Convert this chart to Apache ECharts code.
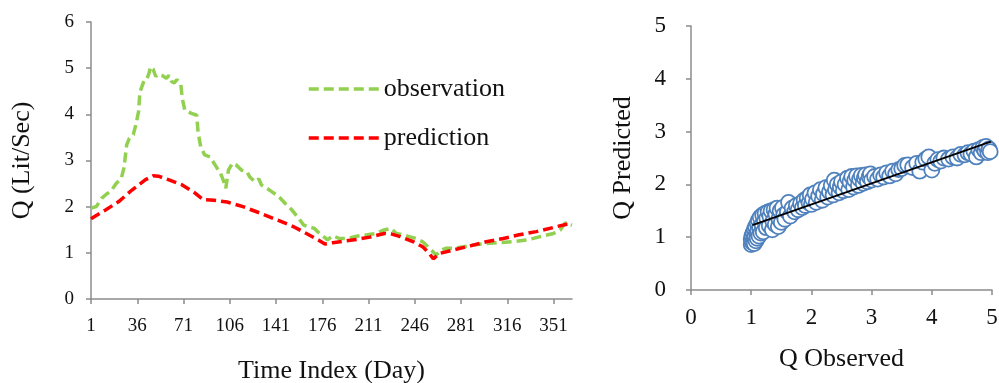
<!DOCTYPE html>
<html>
<head>
<meta charset="utf-8">
<script src="https://cdn.jsdelivr.net/npm/echarts@6/dist/echarts.min.js"></script>
<style>html,body{margin:0;padding:0;background:#fff}#c{width:999px;height:383px}</style>
</head>
<body>
<div id="c"></div>
<script>
// ---- data ----
var obsDays = [1,5,9,13,16,20,24,26,28,30,33,35,37,38,41,43,45,46,48,50,52,55,58,60,62,64,66,69,70,72,77,81,82,84,87,91,95,99,101,103,105,108,111,115,119,121,125,128,130,134,138,143,148,152,155,158,162,165,170,174,178,180,184,189,195,202,210,217,222,228,232,237,242,247,252,256,260,262,266,270,275,283,290,300,310,320,331,341,351,356,360,362,365];
var obsVals = [1.97,2.0,2.18,2.28,2.33,2.5,2.62,2.85,3.34,3.48,3.56,3.78,4.06,4.48,4.72,4.74,4.9,5.03,4.98,4.82,4.87,4.84,4.78,4.84,4.71,4.68,4.75,4.65,4.35,4.09,4.02,3.98,3.62,3.3,3.12,3.08,2.9,2.72,2.58,2.4,2.79,2.94,2.9,2.79,2.76,2.65,2.54,2.6,2.47,2.4,2.32,2.22,2.07,1.96,1.86,1.75,1.6,1.57,1.53,1.42,1.33,1.28,1.37,1.31,1.31,1.36,1.39,1.42,1.49,1.53,1.42,1.39,1.35,1.31,1.24,1.13,1.02,0.95,1.06,1.1,1.1,1.13,1.17,1.2,1.22,1.24,1.28,1.35,1.42,1.49,1.65,1.62,1.6];
var predDays = [1,12,22,32,42,48,52,60,70,80,86,94,104,116,129,142,154,164,173,178,184,192,202,212,223,228,235,245,252,257,260,265,275,288,300,313,325,338,351,361,365];
var predVals = [1.74,1.93,2.11,2.36,2.58,2.67,2.66,2.58,2.47,2.29,2.15,2.14,2.1,2.0,1.86,1.71,1.57,1.42,1.28,1.19,1.22,1.25,1.29,1.34,1.42,1.41,1.35,1.24,1.13,0.99,0.87,0.99,1.06,1.15,1.24,1.31,1.39,1.46,1.55,1.62,1.63];
var dayTicks = [1,36,71,106,141,176,211,246,281,316,351];

// scatter: [Q observed, Q predicted]
var scatterPoints = [
  [1.0,0.86],[1.0,0.95],[1.01,1.02],[1.02,0.9],[1.03,1.08],[1.04,0.97],[1.05,0.88],[1.05,1.14],[1.06,1.0],[1.07,1.2],
  [1.08,0.93],[1.09,1.06],[1.1,1.26],[1.1,0.98],[1.11,1.12],[1.12,1.32],[1.13,1.02],[1.14,1.18],[1.15,1.38],[1.16,1.08],
  [1.18,1.24],[1.19,1.42],[1.2,1.1],[1.22,1.3],[1.23,1.45],[1.25,1.18],[1.26,1.36],[1.28,1.48],[1.3,1.22],[1.31,1.4],
  [1.33,1.5],[1.35,1.14],[1.36,1.3],[1.38,1.52],[1.4,1.24],[1.41,1.44],[1.43,1.55],[1.45,1.2],[1.46,1.35],[1.48,1.5],
  [1.5,1.28],[1.52,1.56],[1.54,1.42],[1.56,1.34],
  [1.6,1.48],[1.62,1.66],[1.65,1.4],[1.68,1.55],[1.72,1.48],[1.75,1.6],[1.78,1.52],[1.82,1.64],[1.85,1.56],[1.88,1.7],
  [1.9,1.6],[1.93,1.74],[1.96,1.65],[1.98,1.8],[2.0,1.62],[2.02,1.72],
  [2.06,1.84],[2.08,1.66],[2.12,1.78],[2.15,1.9],[2.18,1.7],[2.2,1.82],[2.24,1.94],[2.27,1.76],[2.3,1.86],[2.33,1.98],
  [2.36,1.8],[2.38,2.08],[2.4,1.9],[2.43,2.0],[2.46,1.84],[2.48,1.95],[2.5,2.05],[2.53,1.88],
  [2.56,2.0],[2.6,2.12],[2.62,1.9],[2.64,2.05],[2.67,2.15],[2.7,1.95],[2.72,2.08],[2.75,2.16],[2.78,1.98],[2.8,2.1],
  [2.83,2.17],[2.86,2.02],[2.88,2.12],[2.9,2.18],[2.93,2.05],[2.96,2.14],[2.98,2.2],[3.0,2.08],
  [3.05,2.15],[3.1,2.1],[3.15,2.18],[3.2,2.14],[3.25,2.22],[3.3,2.16],[3.35,2.25],[3.4,2.2],[3.45,2.28],[3.5,2.3],
  [3.55,2.36],[3.6,2.37],
  [3.68,2.32],[3.75,2.4],[3.8,2.25],[3.85,2.42],[3.9,2.48],[3.95,2.52],[4.0,2.27],[4.05,2.4],[4.1,2.47],[4.15,2.44],
  [4.2,2.5],[4.28,2.48],
  [4.35,2.52],[4.42,2.5],[4.48,2.57],[4.55,2.56],[4.6,2.6],[4.65,2.58],[4.7,2.63],[4.74,2.52],[4.78,2.66],[4.82,2.6],
  [4.85,2.7],[4.88,2.64],[4.9,2.72],[4.93,2.6],[4.95,2.67],[4.97,2.62]
];
var trendX = [1.02, 4.98];
var trendY = [1.23, 2.81];

// ---- build series data ----
function zip(a, b) { return a.map(function (v, i) { return [v, b[i]]; }); }

var FONT = 'Liberation Serif';
var AX = '#8c8c8c';
var chart = echarts.init(document.getElementById('c'), null, {renderer: 'canvas'});
chart.setOption({
  animation: false,
  backgroundColor: '#fff',
  textStyle: {fontFamily: FONT, color: '#111'},
  grid: [
    {left: 91, top: 22, width: 481, height: 277, outerBoundsMode: 'none', containLabel: false},
    {left: 691, top: 26, width: 301, height: 264, outerBoundsMode: 'none', containLabel: false}
  ],
  legend: {
    orient: 'vertical', left: 302, top: 71, itemGap: 23,
    itemWidth: 70, itemHeight: 14,
    itemStyle: {color: 'rgba(0,0,0,0)', borderWidth: 0, opacity: 0},
    lineStyle: {width: 3.5, type: [10, 5]},
    textStyle: {fontFamily: FONT, fontSize: 26, color: '#111', lineHeight: 26},
    data: ['observation', 'prediction']
  },
  xAxis: [
    {
      gridIndex: 0, type: 'value', min: 1, max: 365,
      name: 'Time Index (Day)', nameLocation: 'middle', nameGap: 59,
      nameTextStyle: {fontFamily: FONT, fontSize: 26, color: '#111'},
      axisLine: {lineStyle: {color: AX, width: 1.5}},
      axisTick: {show: true, length: 5, lineStyle: {color: AX, width: 1.5}, customValues: dayTicks},
      axisLabel: {fontFamily: FONT, fontSize: 19, color: '#111', margin: 18, customValues: dayTicks},
      splitLine: {show: false}
    },
    {
      gridIndex: 1, type: 'value', min: 0, max: 5, interval: 1,
      name: 'Q Observed', nameLocation: 'middle', nameGap: 56,
      nameTextStyle: {fontFamily: FONT, fontSize: 26, color: '#111'},
      axisLine: {lineStyle: {color: AX, width: 1.5}},
      axisTick: {show: true, length: 5, lineStyle: {color: AX, width: 1.5}},
      axisLabel: {fontFamily: FONT, fontSize: 23, color: '#111', margin: 16},
      splitLine: {show: false}
    }
  ],
  yAxis: [
    {
      gridIndex: 0, type: 'value', min: 0, max: 6, interval: 1,
      name: 'Q (Lit/Sec)', nameLocation: 'middle', nameGap: 56, nameRotate: 90,
      nameTextStyle: {fontFamily: FONT, fontSize: 26, color: '#111'},
      axisLine: {show: true, lineStyle: {color: AX, width: 1.5}},
      axisTick: {show: true, length: 5, lineStyle: {color: AX, width: 1.5}},
      axisLabel: {fontFamily: FONT, fontSize: 19, color: '#111', margin: 17},
      splitLine: {show: false}
    },
    {
      gridIndex: 1, type: 'value', min: 0, max: 5, interval: 1,
      name: 'Q Predicted', nameLocation: 'middle', nameGap: 55, nameRotate: 90,
      nameTextStyle: {fontFamily: FONT, fontSize: 26, color: '#111'},
      axisLine: {show: true, lineStyle: {color: AX, width: 1.5}},
      axisTick: {show: true, length: 5, lineStyle: {color: AX, width: 1.5}},
      axisLabel: {fontFamily: FONT, fontSize: 23, color: '#111', margin: 25},
      splitLine: {show: false}
    }
  ],
  series: [
    {
      name: 'observation', type: 'line', xAxisIndex: 0, yAxisIndex: 0,
      data: zip(obsDays, obsVals), symbol: 'none', showSymbol: false,
      lineStyle: {color: '#92D050', width: 3.5, type: [10, 5]},
      itemStyle: {color: '#92D050'}, z: 3
    },
    {
      name: 'prediction', type: 'line', xAxisIndex: 0, yAxisIndex: 0,
      data: zip(predDays, predVals), symbol: 'none', showSymbol: false,
      lineStyle: {color: '#FF0000', width: 3.5, type: [10, 5]},
      itemStyle: {color: '#FF0000'}, z: 4
    },
    {
      name: 'scatter', type: 'scatter', xAxisIndex: 1, yAxisIndex: 1,
      data: scatterPoints, symbol: 'circle', symbolSize: 15,
      itemStyle: {color: '#ffffff', borderColor: '#4F81BD', borderWidth: 1.8, opacity: 1},
      z: 3
    },
    {
      name: 'trend', type: 'line', xAxisIndex: 1, yAxisIndex: 1,
      data: zip(trendX, trendY), symbol: 'none', showSymbol: false,
      lineStyle: {color: '#000', width: 1.8}, z: 5
    }
  ]
});
</script>
</body>
</html>
